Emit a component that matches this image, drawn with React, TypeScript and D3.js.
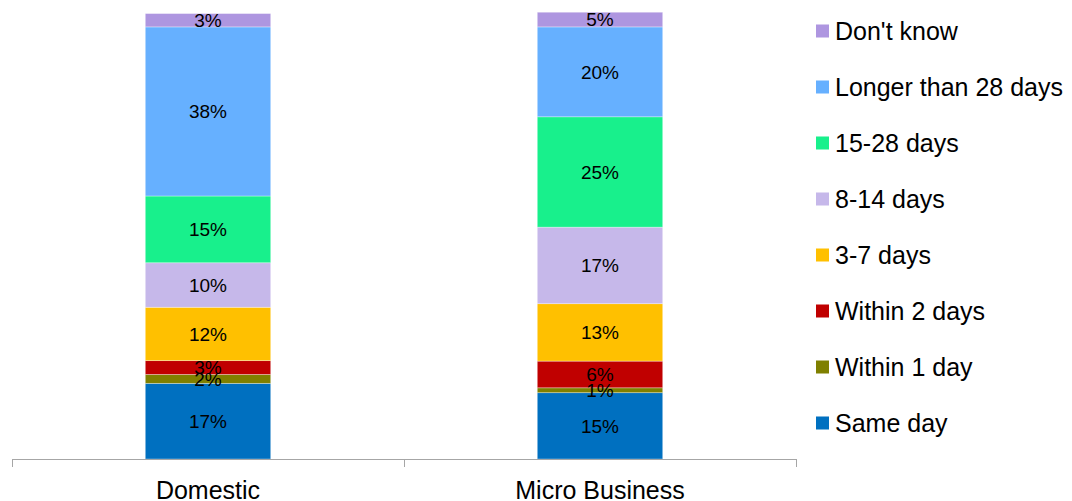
import React, { useEffect, useRef } from "react";
import * as d3 from "d3";

const categories = ["Domestic", "Micro Business"];
const seriesNames = [
  "Same day",
  "Within 1 day",
  "Within 2 days",
  "3-7 days",
  "8-14 days",
  "15-28 days",
  "Longer than 28 days",
  "Don't know",
];
const seriesColors = [
  "#0070C0",
  "#7F8000",
  "#C00000",
  "#FFC000",
  "#C6B8EA",
  "#18F08C",
  "#66B0FF",
  "#AE96E0",
];
// values per series: [Domestic, Micro Business]
const sameDay = [17, 14.9];
const within1Day = [2, 1.1];
const within2Days = [3.1, 6.0];
const days3to7 = [12, 12.9];
const days8to14 = [10, 17.2];
const days15to28 = [15, 24.8];
const longer28 = [38, 20.2];
const dontKnow = [3, 3.3];
const seriesValues = [sameDay, within1Day, within2Days, days3to7, days8to14, days15to28, longer28, dontKnow];
// printed data labels
const domesticLabels = ["17%", "2%", "3%", "12%", "10%", "15%", "38%", "3%"];
const microLabels = ["15%", "1%", "6%", "13%", "17%", "25%", "20%", "5%"];
const labelSets = [domesticLabels, microLabels];
const yTicks = [0, 100];

const FONT = "Liberation Sans, Arial, sans-serif";

export default function App() {
  const ref = useRef<SVGSVGElement | null>(null);

  useEffect(() => {
    const svg = d3.select(ref.current);
    svg.selectAll("*").remove();
    const x = d3.scaleBand<string>().domain(categories).range([12, 796]).paddingInner(0.68).paddingOuter(0.34);
    const y = d3.scaleLinear().domain([yTicks[0], yTicks[1]]).range([459, 14]);

    const rows = categories.map((c, ci) => {
      const r: any = { cat: c };
      seriesNames.forEach((s, si) => (r[s] = seriesValues[si][ci]));
      return r;
    });
    const stacked = d3.stack<any>().keys(seriesNames)(rows);

    const g = svg.append("g");
    stacked.forEach((layer, si) => {
      layer.forEach((d, ci) => {
        g.append("rect")
          .attr("x", x(categories[ci])!)
          .attr("y", y(d[1]))
          .attr("width", x.bandwidth())
          .attr("height", y(d[0]) - y(d[1]))
          .attr("fill", seriesColors[si])
          .attr("stroke", "rgba(255,255,255,0.45)")
          .attr("stroke-width", 0.75);
      });
    });
    stacked.forEach((layer, si) => {
      layer.forEach((d, ci) => {
        g.append("text")
          .attr("x", x(categories[ci])! + x.bandwidth() / 2)
          .attr("y", (y(d[0]) + y(d[1])) / 2)
          .attr("dy", "0.36em")
          .attr("text-anchor", "middle")
          .attr("font-family", FONT)
          .attr("font-size", 19)
          .attr("fill", "#000")
          .text(labelSets[ci][si]);
      });
    });

    // x axis
    const ax = svg.append("g").attr("stroke", "#A6A6A6").attr("stroke-width", 1);
    ax.append("line").attr("x1", 12).attr("x2", 796).attr("y1", 459.5).attr("y2", 459.5);
    const edges = [12, ...categories.map((c) => x(c)! + x.bandwidth() / 2 + x.step() / 2)];
    edges.forEach((e) => {
      ax.append("line").attr("x1", e + 0.5).attr("x2", e + 0.5).attr("y1", 459).attr("y2", 467);
    });
    categories.forEach((c) => {
      svg.append("text")
        .attr("x", x(c)! + x.bandwidth() / 2)
        .attr("y", 499)
        .attr("text-anchor", "middle")
        .attr("font-family", FONT)
        .attr("font-size", 25)
        .attr("fill", "#000")
        .text(c);
    });

    // legend
    const legendOrder = d3.range(seriesNames.length).reverse();
    legendOrder.forEach((si, i) => {
      const cy = 31 + i * 56;
      svg.append("rect").attr("x", 816).attr("y", cy - 6.5).attr("width", 13).attr("height", 13).attr("fill", seriesColors[si]);
      svg.append("text")
        .attr("x", 835)
        .attr("y", cy)
        .attr("dy", "0.36em")
        .attr("font-family", FONT)
        .attr("font-size", 25)
        .attr("fill", "#000")
        .text(seriesNames[si]);
    });
  }, []);

  return (
    <svg
      ref={ref}
      width={1072}
      height={501}
      style={{ position: "absolute", left: 0, top: 0, background: "#fff" }}
    />
  );
}
